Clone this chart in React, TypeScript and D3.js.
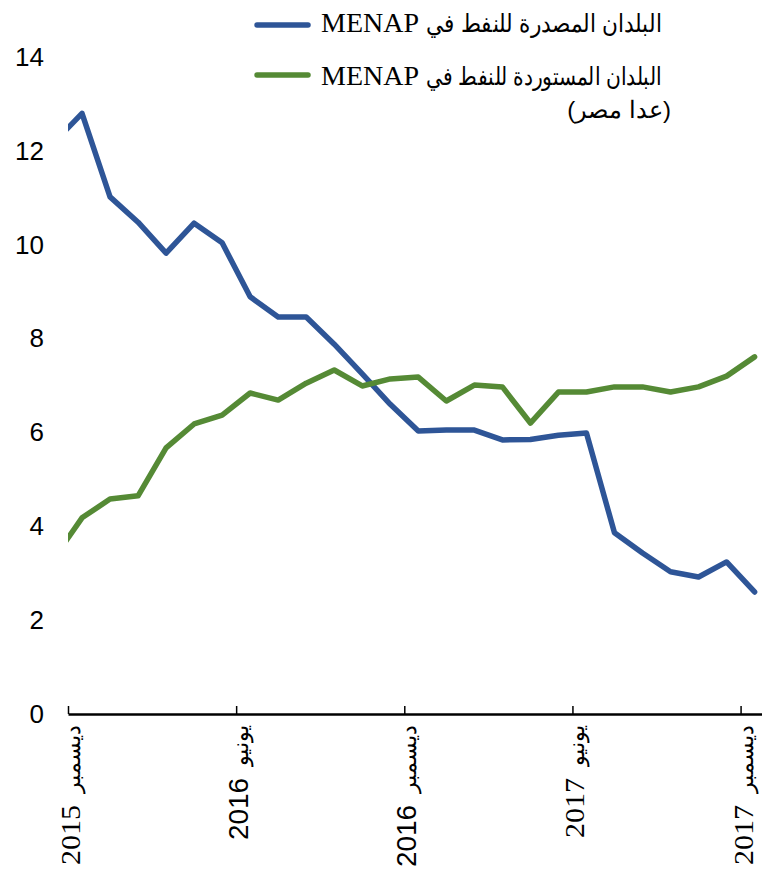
import React, { useEffect, useRef } from 'react';
import * as d3 from 'd3';

// monthly values, Nov 2015 .. Dec 2017 (Nov 2015 sits left of the axis and is clipped)
const months = [
  '2015-11', '2015-12',
  '2016-01', '2016-02', '2016-03', '2016-04', '2016-05', '2016-06',
  '2016-07', '2016-08', '2016-09', '2016-10', '2016-11', '2016-12',
  '2017-01', '2017-02', '2017-03', '2017-04', '2017-05', '2017-06',
  '2017-07', '2017-08', '2017-09', '2017-10', '2017-11', '2017-12',
];
const exporters = [
  12.18, 12.8,
  11.02, 10.48, 9.82, 10.46, 10.04, 8.89,
  8.46, 8.46, 7.88, 7.25, 6.6, 6.03,
  6.05, 6.05, 5.84, 5.85, 5.94, 5.99,
  3.86, 3.43, 3.03, 2.92, 3.24, 2.6,
];
const importers = [
  3.32, 4.18,
  4.58, 4.65, 5.67, 6.18, 6.37, 6.84,
  6.69, 7.05, 7.33, 6.99, 7.14, 7.18,
  6.67, 7.01, 6.97, 6.2, 6.86, 6.86,
  6.97, 6.97, 6.86, 6.97, 7.2, 7.61,
];

const yTicks = [0, 2, 4, 6, 8, 10, 12, 14];
const xTickMonths = ['2015-12', '2016-06', '2016-12', '2017-06', '2017-12'];
const xTickNames = ['ديسمبر', 'يونيو', 'ديسمبر', 'يونيو', 'ديسمبر'];
const xTickYears = ['2015', '2016', '2016', '2017', '2017'];

const seriesNames = ['البلدان المصدرة للنفط في', 'البلدان المستوردة للنفط في'];
const seriesTag = 'MENAP';
const seriesNote = '(عدا مصر)';

const BLUE = '#2E5597';
const GREEN = '#558A35';
const SANS = 'Liberation Sans, Arial, sans-serif';
const SERIF = '"Liberation Serif", "Times New Roman", serif';

// months since Dec 2015
const monthIndex = (s: string) => {
  const [y, m] = s.split('-').map(Number);
  return (y - 2015) * 12 + (m - 12);
};

export default function App() {
  const ref = useRef<SVGSVGElement>(null);

  useEffect(() => {
    const svg = d3.select(ref.current);
    svg.selectAll('*').remove();

    const width = 762;
    const margin = { left: 68, top: 57, bottom: 714 };

    const x = d3.scaleLinear().domain([0, 24.8]).range([margin.left, width + 1]);
    const y = d3.scaleLinear().domain([0, 14]).range([margin.bottom, margin.top]);

    svg
      .append('defs')
      .append('clipPath')
      .attr('id', 'plot-clip')
      .append('rect')
      .attr('x', margin.left)
      .attr('y', 0)
      .attr('width', width - margin.left)
      .attr('height', 880);

    // y axis: labels only
    const yAxis = svg
      .append('g')
      .attr('transform', 'translate(44,0)')
      .call(d3.axisLeft(y).tickValues(yTicks).tickSize(0).tickPadding(0).tickFormat(d3.format('d')));
    yAxis.select('.domain').remove();
    yAxis.selectAll('text').attr('font-family', SANS).attr('font-size', 26).attr('fill', '#000');

    // x axis: ticks point up into the plot
    const xAxis = svg
      .append('g')
      .attr('transform', `translate(0,${margin.bottom})`)
      .call(
        d3
          .axisBottom(x)
          .tickValues(xTickMonths.map(monthIndex))
          .tickSizeInner(-8)
          .tickSizeOuter(0)
          .tickFormat(() => '')
      );
    xAxis.select('.domain').attr('stroke', '#000').attr('stroke-width', 2.5);
    xAxis.selectAll('.tick line').attr('stroke', '#000').attr('stroke-width', 1.5);

    // rotated tick labels: month name on top, year below it
    const labels = svg
      .append('g')
      .selectAll('g')
      .data(xTickMonths)
      .join('g')
      .attr('transform', (d) => `translate(${x(monthIndex(d)) + 12},725) rotate(-90)`);
    labels
      .append('text')
      .attr('class', 'month')
      .attr('text-anchor', 'end')
      .attr('font-family', SERIF)
      .attr('font-size', 22)
      .attr('fill', '#000')
      .text((d, i) => xTickNames[i]);
    labels.each(function (d, i) {
      const g = d3.select(this);
      const mw = (g.select('text.month').node() as SVGTextElement).getComputedTextLength();
      const is2016 = xTickYears[i] === '2016';
      g.append('text')
        .attr('x', -(mw + 12))
        .attr('text-anchor', 'end')
        .attr('font-family', is2016 ? SANS : SERIF)
        .attr('font-size', 28)
        .attr('textLength', is2016 ? 62 : 60)
        .attr('lengthAdjust', 'spacingAndGlyphs')
        .attr('fill', '#000')
        .text(xTickYears[i]);
    });

    // lines
    const line = d3
      .line<number>()
      .x((d, i) => x(monthIndex(months[i]) + 0.5))
      .y((d) => y(d));

    const plot = svg.append('g').attr('clip-path', 'url(#plot-clip)');
    [
      { values: exporters, color: BLUE },
      { values: importers, color: GREEN },
    ].forEach((s) => {
      plot
        .append('path')
        .datum(s.values)
        .attr('fill', 'none')
        .attr('stroke', s.color)
        .attr('stroke-width', 5.5)
        .attr('stroke-linejoin', 'round')
        .attr('stroke-linecap', 'round')
        .attr('d', line);
    });

    // legend
    const legend = svg.append('g');
    [BLUE, GREEN].forEach((c, i) => {
      const cy = 25 + i * 50;
      const base = 32 + i * 53;
      legend
        .append('line')
        .attr('x1', 257)
        .attr('x2', 308)
        .attr('y1', cy)
        .attr('y2', cy)
        .attr('stroke', c)
        .attr('stroke-width', 5.5)
        .attr('stroke-linecap', 'round');
      legend
        .append('text')
        .attr('x', 321)
        .attr('y', base)
        .attr('font-family', SERIF)
        .attr('font-size', 28)
        .attr('fill', '#000')
        .text(seriesTag);
      legend
        .append('text')
        .attr('x', 662)
        .attr('y', base)
        .attr('text-anchor', 'end')
        .attr('font-family', SANS)
        .attr('font-size', 25)
        .attr('textLength', 236)
        .attr('lengthAdjust', 'spacingAndGlyphs')
        .attr('fill', '#000')
        .text(seriesNames[i]);
    });
    legend
      .append('text')
      .attr('x', 671)
      .attr('y', 118)
      .attr('text-anchor', 'end')
      .attr('font-family', SANS)
      .attr('font-size', 24)
      .attr('fill', '#000')
      .text(seriesNote);
  }, []);

  return (
    <svg
      ref={ref}
      width={762}
      height={880}
      style={{ position: 'absolute', left: 0, top: 0, background: '#fff' }}
    />
  );
}
